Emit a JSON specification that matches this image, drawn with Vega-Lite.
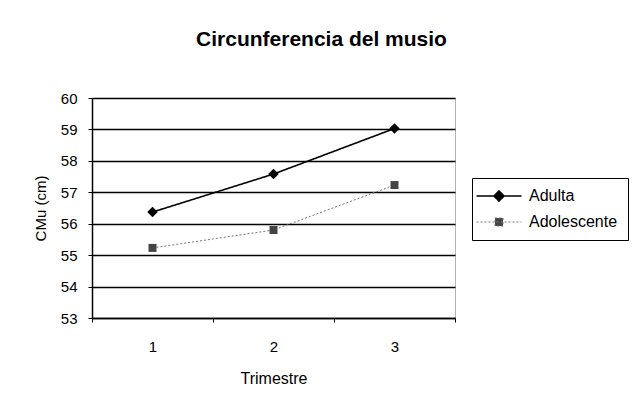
{
  "$schema": "https://vega.github.io/schema/vega-lite/v6.json",
  "width": 363,
  "height": 220,
  "autosize": "none",
  "padding": {"left": 92, "top": 98, "right": 179, "bottom": 90},
  "background": "white",
  "title": {
    "text": "Circunferencia del musio",
    "font": "Liberation Sans",
    "fontSize": 21,
    "fontWeight": "bold",
    "color": "black",
    "anchor": "middle",
    "frame": "group",
    "baseline": "alphabetic",
    "dx": 48,
    "offset": 24
  },
  "data": {
    "values": [
      {"Trimestre": "1", "Serie": "Adulta", "CMu": 56.37},
      {"Trimestre": "2", "Serie": "Adulta", "CMu": 57.58},
      {"Trimestre": "3", "Serie": "Adulta", "CMu": 59.03},
      {"Trimestre": "1", "Serie": "Adolescente", "CMu": 55.23},
      {"Trimestre": "2", "Serie": "Adolescente", "CMu": 55.8},
      {"Trimestre": "3", "Serie": "Adolescente", "CMu": 57.23}
    ]
  },
  "encoding": {
    "x": {
      "field": "Trimestre",
      "type": "ordinal",
      "scale": {"type": "band", "paddingInner": 0, "paddingOuter": 0},
      "axis": {
        "title": "Trimestre",
        "labelAngle": 0,
        "tickBand": "extent",
        "grid": false,
        "domainColor": "black",
        "domainWidth": 1.5,
        "tickColor": "black",
        "tickSize": 4,
        "labelPadding": 17,
        "titlePadding": 16,
        "labelFontSize": 15,
        "titleFontSize": 16
      }
    },
    "y": {
      "field": "CMu",
      "type": "quantitative",
      "scale": {"domain": [53, 60], "nice": false, "zero": false},
      "axis": {
        "title": "CMu (cm)",
        "values": [53, 54, 55, 56, 57, 58, 59, 60],
        "grid": true,
        "gridColor": "black",
        "gridWidth": 1.5,
        "domainColor": "black",
        "domainWidth": 1.5,
        "tickColor": "black",
        "tickSize": 4,
        "labelPadding": 11,
        "titlePadding": 12,
        "labelFontSize": 15,
        "titleFontSize": 15
      }
    }
  },
  "layer": [
    {
      "mark": {"type": "line"},
      "encoding": {
        "stroke": {
          "field": "Serie",
          "type": "nominal",
          "scale": {"domain": ["Adulta", "Adolescente"], "range": ["black", "#777777"]}
        },
        "strokeDash": {
          "field": "Serie",
          "type": "nominal",
          "scale": {"domain": ["Adulta", "Adolescente"], "range": [[1, 0], [2, 2]]}
        },
        "strokeWidth": {
          "field": "Serie",
          "type": "nominal",
          "scale": {"domain": ["Adulta", "Adolescente"], "range": [1.6, 1]}
        }
      }
    },
    {
      "transform": [{"filter": "datum.Serie === 'Adulta'"}],
      "mark": {"type": "point", "shape": "diamond", "filled": true, "opacity": 1, "color": "black", "size": 110}
    },
    {
      "transform": [{"filter": "datum.Serie === 'Adolescente'"}],
      "mark": {"type": "point", "shape": "square", "filled": true, "opacity": 1, "color": "#444444", "size": 64}
    },
    {
      "mark": {"type": "point", "filled": true, "opacity": 0, "size": 100},
      "encoding": {
        "shape": {
          "field": "Serie",
          "type": "nominal",
          "scale": {
            "domain": ["Adulta", "Adolescente"],
            "range": ["M-4.5,0H4.5M0,-1L1,0L0,1L-1,0Z", "M-4.5,0H4.5M-0.8,-0.8H0.8V0.8H-0.8Z"]
          }
        },
        "fill": {
          "field": "Serie",
          "type": "nominal",
          "scale": {"domain": ["Adulta", "Adolescente"], "range": ["black", "#444444"]}
        }
      }
    }
  ],
  "config": {
    "font": "Liberation Sans",
    "view": {"stroke": "#666666", "strokeWidth": 1, "strokeDash": [1, 1]},
    "axis": {
      "labelFont": "Liberation Sans",
      "titleFont": "Liberation Sans",
      "labelColor": "black",
      "titleColor": "black",
      "titleFontWeight": "normal"
    },
    "legend": {
      "title": null,
      "orient": "none",
      "legendX": 380,
      "legendY": 80,
      "strokeColor": "black",
      "padding": 10,
      "rowPadding": 9,
      "symbolOpacity": 1,
      "symbolOffset": 9,
      "labelOffset": 22,
      "labelFont": "Liberation Sans",
      "labelFontSize": 16,
      "labelColor": "black"
    }
  }
}
